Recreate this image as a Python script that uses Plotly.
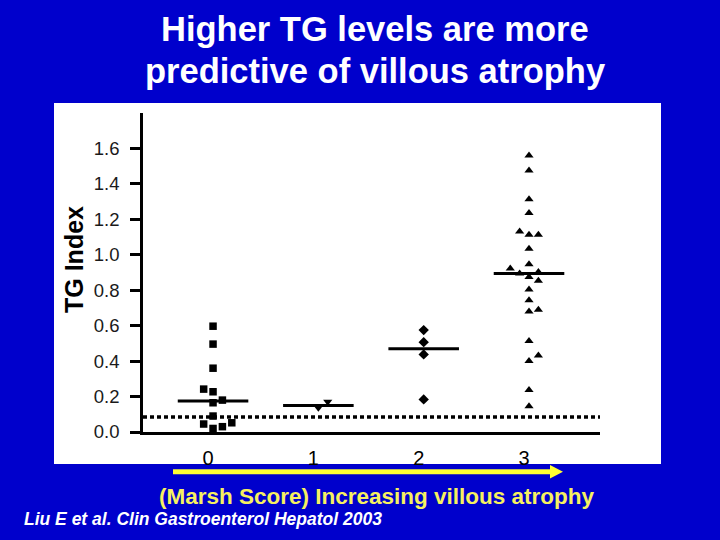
import plotly.graph_objects as go

# ---------------- data ----------------
marsh_scores = [0, 1, 2, 3]
tick_labels = ["0", "1", "2", "3"]
y_ticks = [0.0, 0.2, 0.4, 0.6, 0.8, 1.0, 1.2, 1.4, 1.6]

# group 0 (squares): horizontal jitter offsets and TG index values
g0_offset = [0, 0, 0, -0.089, 0, 0, 0.089, 0, -0.089, 0, 0.089, 0.178]
g0_tg = [0.597, 0.496, 0.36, 0.242, 0.227, 0.165, 0.18, 0.09, 0.045, 0.02, 0.03, 0.052]

# group 1 (down triangles)
g1_offset = [0, 0.089]
g1_tg = [0.137, 0.17]

# group 2 (diamonds)
g2_offset = [0, 0, 0, 0]
g2_tg = [0.575, 0.507, 0.438, 0.184]

# group 3 (up triangles)
g3_offset = [0, 0, 0, 0, -0.089, 0, 0.089, 0, 0, -0.178, -0.089, 0.089, 0,
             0.089, 0, 0, 0, 0.089, 0, 0, 0.089, 0, 0]
g3_tg = [1.56, 1.476, 1.313, 1.236, 1.132, 1.113, 1.113, 1.034, 0.946, 0.922,
         0.894, 0.903, 0.875, 0.853, 0.804, 0.744, 0.68, 0.69, 0.513, 0.4,
         0.432, 0.237, 0.146]

medians = [0.175, 0.15, 0.47, 0.894]
median_half_width = 0.335
cutoff = 0.085

groups = [
    (g0_offset, g0_tg, "square", 7.5),
    (g1_offset, g1_tg, "triangle-down", 8),
    (g2_offset, g2_tg, "diamond", 8),
    (g3_offset, g3_tg, "triangle-up", 8),
]

# ---------------- layout geometry (pixels) ----------------
W, H = 720, 540
L, R, T, B = 143, 600, 113, 432  # plot area in pixels
BLUE = "#0000CC"
YELLOW = "#FFFF33"


def px2x(px):
    return (px - L) / (R - L)


def py2y(py):
    return (B - py) / (B - T)


fig = go.Figure()

for score, (offs, vals, sym, size) in zip(marsh_scores, groups):
    fig.add_trace(go.Scatter(
        x=[score + o for o in offs], y=vals, mode="markers",
        marker=dict(symbol=sym, size=size, color="black", line=dict(width=0)),
        showlegend=False, hoverinfo="y",
    ))

for score, med in zip(marsh_scores, medians):
    fig.add_trace(go.Scatter(
        x=[score - median_half_width, score + median_half_width], y=[med, med],
        mode="lines", line=dict(color="black", width=3),
        showlegend=False, hoverinfo="skip",
    ))

shapes = [
    # white panel
    dict(type="rect", xref="paper", yref="paper", layer="below",
         x0=px2x(54), x1=px2x(661), y0=py2y(464), y1=py2y(103),
         fillcolor="white", line=dict(width=0)),
    # cut-off dotted line
    dict(type="line", xref="paper", yref="y", x0=0, x1=1, y0=cutoff, y1=cutoff,
         line=dict(color="black", width=3.5, dash="4px,3px")),
    # yellow arrow shaft
    dict(type="line", xref="paper", yref="paper",
         x0=px2x(173), x1=px2x(552), y0=py2y(471.7), y1=py2y(471.7),
         line=dict(color=YELLOW, width=5)),
    # yellow arrow head
    dict(type="path", xref="paper", yref="paper",
         path=f"M {px2x(550)},{py2y(465)} L {px2x(563)},{py2y(471.7)} "
              f"L {px2x(550)},{py2y(478.5)} Z",
         fillcolor=YELLOW, line=dict(color=YELLOW, width=0)),
]

annotations = [
    dict(text="<b>Higher TG levels are more</b>", xref="paper", yref="paper",
         x=px2x(375), y=py2y(28.5), xanchor="center", yanchor="middle",
         showarrow=False, font=dict(family="Liberation Sans, Arial", size=34.5, color="white")),
    dict(text="<b>predictive of villous atrophy</b>", xref="paper", yref="paper",
         x=px2x(375), y=py2y(71.5), xanchor="center", yanchor="middle",
         showarrow=False, font=dict(family="Liberation Sans, Arial", size=34.5, color="white")),
    dict(text="<b>TG Index</b>", xref="paper", yref="paper",
         x=px2x(74), y=py2y(260), xanchor="center", yanchor="middle", textangle=-90,
         showarrow=False, font=dict(family="Liberation Sans, Arial", size=25, color="black")),
    dict(text="<b>(Marsh Score) Increasing villous atrophy</b>", xref="paper", yref="paper",
         x=px2x(377), y=py2y(496), xanchor="center", yanchor="middle",
         showarrow=False, font=dict(family="Liberation Sans, Arial", size=22.5, color="#F6F060")),
    dict(text="<b><i>Liu E et al. Clin Gastroenterol Hepatol 2003</i></b>", xref="paper", yref="paper",
         x=px2x(22), y=py2y(519), xanchor="left", yanchor="middle",
         showarrow=False, font=dict(family="Liberation Sans, Arial", size=17.5, color="white")),
]

fig.update_layout(
    width=W, height=H,
    margin=dict(l=L, r=W - R, t=T, b=H - B, pad=0),
    paper_bgcolor=BLUE, plot_bgcolor="white",
    shapes=shapes, annotations=annotations,
    showlegend=False,
    xaxis=dict(
        range=[-0.665, 3.674], tickvals=marsh_scores, ticktext=tick_labels,
        showgrid=False, zeroline=False, showline=True, linecolor="black", linewidth=3,
        ticks="", ticklabelstandoff=6, ticklabelshift=-5,
        tickfont=dict(family="Liberation Sans, Arial", size=20, color="black"),
    ),
    yaxis=dict(
        range=[0, 1.8], tickvals=y_ticks, tickformat=".1f",
        showgrid=False, zeroline=False, showline=True, linecolor="black", linewidth=2.5,
        ticks="outside", ticklen=10, tickwidth=2.5, tickcolor="black",
        ticklabelstandoff=7,
        tickfont=dict(family="Liberation Sans, Arial", size=18.5, color="#1a1a1a"),
    ),
    font=dict(family="Liberation Sans, Arial"),
)

fig.write_html("out.html", config={"displayModeBar": False},
               post_script="document.body.style.margin='0';document.body.style.padding='0';")
